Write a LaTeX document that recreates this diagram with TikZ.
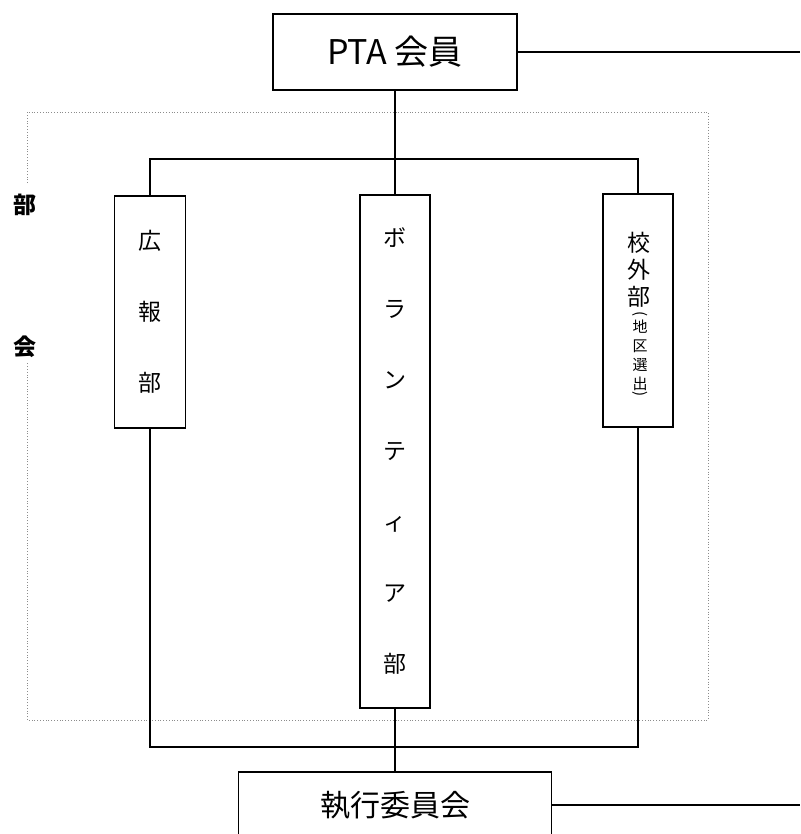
\documentclass[tikz,border=0pt]{standalone}
\usepackage{fontspec}
\setmainfont{Noto Sans CJK JP}
\begin{document}
\begin{tikzpicture}[x=1pt,y=-1pt,
  box/.style={draw=black,line width=1.1pt,inner sep=0pt,align=center},
  conn/.style={draw=black,line width=1.1pt},
  frame/.style={draw=black!45,line width=0.8pt,dotted},
  bigtext/.style={font=\fontsize{34}{40}\selectfont},
  midtext/.style={font=\fontsize{30}{36}\selectfont},
  coltext/.style={font=\fontsize{23}{71}\selectfont,align=center},
  tighttext/.style={font=\fontsize{23}{27}\selectfont,align=center,inner sep=0pt},
  smalltext/.style={font=\fontsize{15}{19}\selectfont,align=center,inner sep=0pt},
  parentext/.style={font=\fontsize{15}{19}\selectfont,inner sep=0pt},
  sidetext/.style={font=\fontsize{23}{27}\selectfont\bfseries,inner sep=0pt}]
\clip (0,0) rectangle (800,834);
\fill[white] (0,0) rectangle (800,834);

% dotted frame (gap on the left for the side label)
\draw[frame] (27,183) -- (27,112) -- (708,112) -- (708,720) -- (27,720) -- (27,363);
\node[sidetext] (bu) at (25,205) {部};
\node[sidetext] (kai) at (25,347) {会};

% boxes
\node[box,bigtext,minimum width=244pt,minimum height=76pt] (pta) at (395,52) {PTA 会員};
\node[box,coltext,minimum width=71pt,minimum height=232pt] (kouhou) at (150,312) {広\\報\\部};
\node[box,coltext,minimum width=70pt,minimum height=513pt] (vol) at (395,451.5) {ボ\\ラ\\ン\\テ\\ィ\\ア\\部};
\node[box,minimum width=70pt,minimum height=233pt] (kougai) at (638,310.5) {};
\node[tighttext] (kougaitext) at (639,270) {校\\外\\部};
\node[parentext] (lparen) at (640,314) {\rotatebox{-90}{(}};
\node[smalltext] (chiku) at (640,355) {地\\区\\選\\出};
\node[parentext] (rparen) at (640,394) {\rotatebox{-90}{)}};
\node[box,midtext,minimum width=313pt,minimum height=66pt] (exec) at (395,805) {執行委員会};

% connectors
\coordinate (bustop) at (395,159);
\coordinate (busbot) at (395,747);
\coordinate (edgeA) at (800,52);
\coordinate (edgeB) at (800,805);
\draw[conn] (pta.south) -- (vol.north);
\draw[conn] (kouhou.north) |- (bustop) -| (kougai.north);
\draw[conn] (kouhou.south) |- (busbot) -| (kougai.south);
\draw[conn] (vol.south) -- (exec.north);
\draw[conn] (pta.east) -- (edgeA);
\draw[conn] (exec.east) -- (edgeB);
\end{tikzpicture}
\end{document}
